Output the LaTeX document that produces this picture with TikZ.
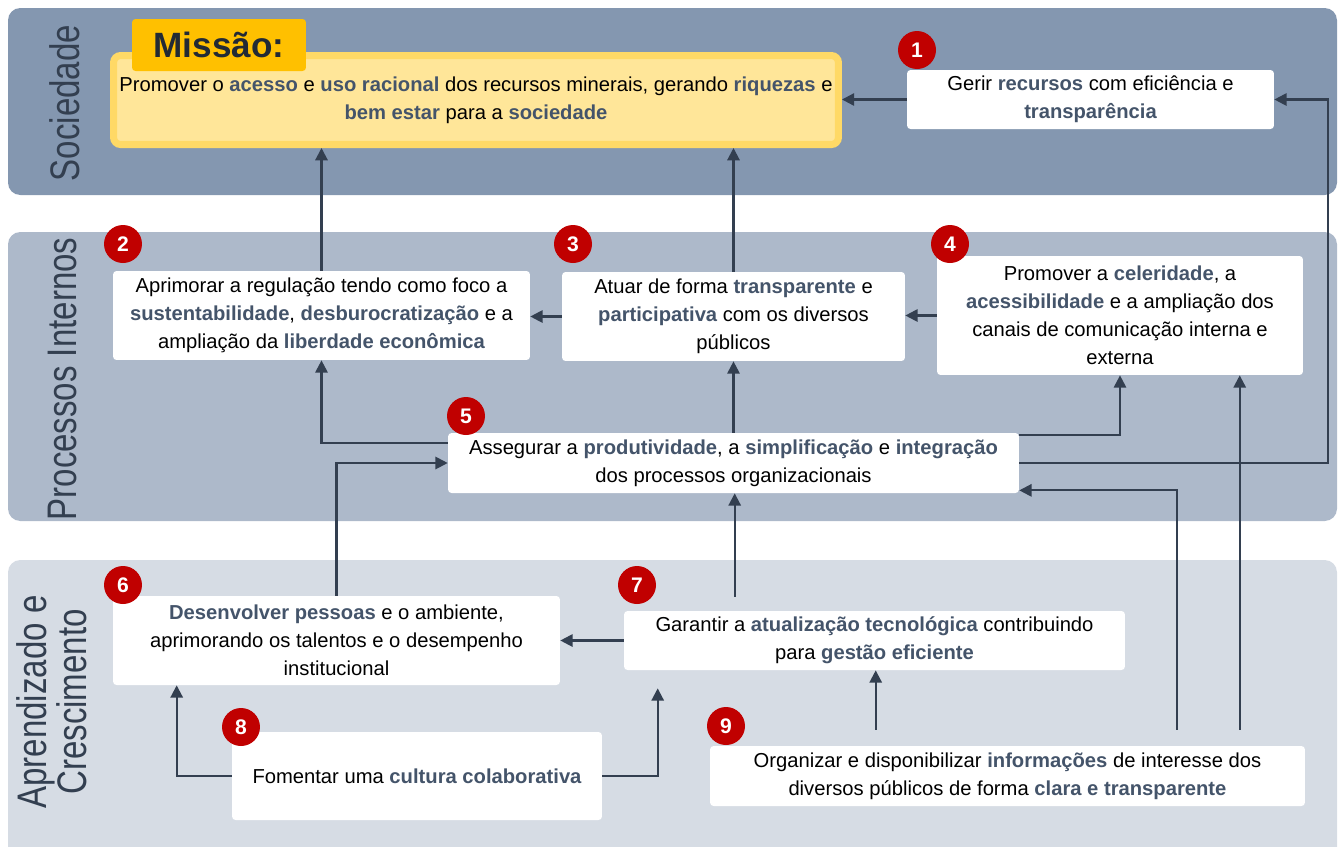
\documentclass[tikz,border=0pt]{standalone}
\usepackage{fontspec}
\setmainfont{Liberation Sans}
\newfontfamily\bandfont[FakeStretch=0.8]{Liberation Sans}
\usetikzlibrary{arrows.meta}
\usetikzlibrary{calc}
\usetikzlibrary{positioning}
\definecolor{bandA}{HTML}{8497B0}
\definecolor{bandB}{HTML}{ADB9CA}
\definecolor{bandC}{HTML}{D6DCE4}
\definecolor{ink}{HTML}{333F50}
\definecolor{kwblue}{HTML}{44546A}
\definecolor{badgered}{HTML}{C00000}
\definecolor{misfill}{HTML}{FFE699}
\definecolor{misline}{HTML}{FFD966}
\definecolor{mistab}{HTML}{FFC000}
\definecolor{mistext}{HTML}{222A35}
\newcommand{\kw}[1]{{\bfseries\color{kwblue}#1}}

\begin{document}
\begin{tikzpicture}[x=0.02cm, y=-0.02cm,
  goal/.style={fill=white, rounded corners=2pt, align=center, inner sep=2pt, font=\fontsize{11.5}{16}\selectfont},
  badge/.style={circle, fill=badgered, text=white, inner sep=0pt, minimum size=0.76cm, font=\fontsize{12}{12}\selectfont\bfseries},
  link/.style={draw=ink, line width=1.2pt, -{Triangle[length=7pt, width=7pt]}},
  bandlabel/.style={rotate=90, text=ink, align=center, font=\bandfont\fontsize{23.5}{23}\selectfont}]
\useasboundingbox (0,0) rectangle (1343,846);
% perspective bands
\fill[bandA, rounded corners=7pt] (8,8) rectangle (1337,195);
\fill[bandB, rounded corners=7pt] (8,232) rectangle (1337,521);
\fill[bandC, rounded corners=7pt] (8,560) rectangle (1337,866);
\node[bandlabel] (soc) at (65,103) {Sociedade};
\node[bandlabel] (proc) at (62,379) {Processos Internos};
\node[bandlabel] (apr) at (52,702) {Aprendizado e\\ Crescimento};

% missao
\node[fill=misfill, draw=misline, line width=4pt, rounded corners=4pt, minimum width=14.5cm, minimum height=1.78cm, align=center, font=\fontsize{11.5}{16}\selectfont] (mission) at (476,100) {Promover o \kw{acesso} e \kw{uso racional} dos recursos minerais, gerando \kw{riquezas} e\\ \kw{bem estar} para a \kw{sociedade}};
\node[fill=mistab, rounded corners=2pt, minimum width=3.48cm, minimum height=1.04cm, text=mistext, font=\fontsize{20}{20}\selectfont\bfseries] (tab) at (219,45) {Missão:};

% objetivos
\node[goal, minimum width=7.34cm, minimum height=1.18cm] (b1) at (1090.5,99.5) {Gerir \kw{recursos} com eficiência e\\ \kw{transparência}};
\node[goal, minimum width=8.34cm, minimum height=1.78cm] (b2) at (321.5,315.5) {Aprimorar a regulação tendo como foco a\\ \kw{sustentabilidade}, \kw{desburocratização} e a\\ ampliação da \kw{liberdade econômica}};
\node[goal, minimum width=6.86cm, minimum height=1.78cm] (b3) at (733.5,316.5) {Atuar de forma \kw{transparente} e\\ \kw{participativa} com os diversos\\ públicos};
\node[goal, minimum width=7.32cm, minimum height=2.38cm] (b4) at (1120,315.5) {Promover a \kw{celeridade}, a\\ \kw{acessibilidade} e a ampliação dos\\ canais de comunicação interna e\\ externa};
\node[goal, minimum width=11.42cm, minimum height=1.2cm] (b5) at (733.5,463) {Assegurar a \kw{produtividade}, a \kw{simplificação} e \kw{integração}\\ dos processos organizacionais};
\node[goal, minimum width=8.94cm, minimum height=1.78cm] (b6) at (336.5,640.5) {\kw{Desenvolver pessoas} e o ambiente,\\ aprimorando os talentos e o desempenho\\ institucional};
\node[goal, minimum width=10.02cm, minimum height=1.18cm] (b7) at (874.5,640.5) {Garantir a \kw{atualização tecnológica} contribuindo\\ para \kw{gestão eficiente}};
\node[goal, minimum width=7.4cm, minimum height=1.76cm] (b8) at (417,776) {Fomentar uma \kw{cultura colaborativa}};
\node[goal, minimum width=11.9cm, minimum height=1.2cm] (b9) at (1007.5,776) {Organizar e disponibilizar \kw{informações} de interesse dos\\ diversos públicos de forma \kw{clara e transparente}};

\foreach \n/\x/\y in {1/917/50, 2/123/244, 3/573/244, 4/950/244, 5/466/416, 6/123/585, 7/637/585, 8/241/727, 9/726/726}{
\node[badge] (n\n) at (\x,\y) {\n};}

% ligacoes
\coordinate (rail) at (1328,0);
\coordinate (f9a) at ($(b9.north west)+(467,-16)$);
\coordinate (f9b) at ($(b9.north west)+(530,-16)$);
\coordinate (f9c) at ($(b9.north west)+(166,-16)$);
\coordinate (f7) at ($(b7.north west)+(111,-14)$);
\coordinate (t7) at ($(b7.south west)+(34,18)$);
\draw[link] (b1.west) -- (b1.west -| mission.east);
\draw[link] (b2.north) -- (b2.north |- mission.south);
\draw[link] (b3.north) -- (b3.north |- mission.south);
\draw[link] (b3.west) -- (b3.west -| b2.east);
\draw[link] (b4.west) -- (b4.west -| b3.east);
\draw[link] ($(b5.north west)+(0,10)$) -| (b2.south);
\draw[link] (b5.north) -- (b3.south);
\draw[link] ($(b5.north east)+(0,2)$) -| (b4.south);
\draw[link] (b5.east) -- (b5.east -| rail) |- (b1.east);
\draw[link] (f9a) |- ($(b5.south east)+(0,-3)$);
\draw[link] (f9b) -- (f9b |- b4.south);
\draw[link] (f9c) -- (f9c |- b7.south);
\draw[link] (f7) -- (f7 |- b5.south);
\draw[link] (b7.west) -- (b7.west -| b6.east);
\draw[link] (b6.north) |- (b5.west);
\draw[link] (b8.west) -| ($(b6.south west)+(64,0)$);
\draw[link] (b8.east) -| (t7);
\end{tikzpicture}
\end{document}
